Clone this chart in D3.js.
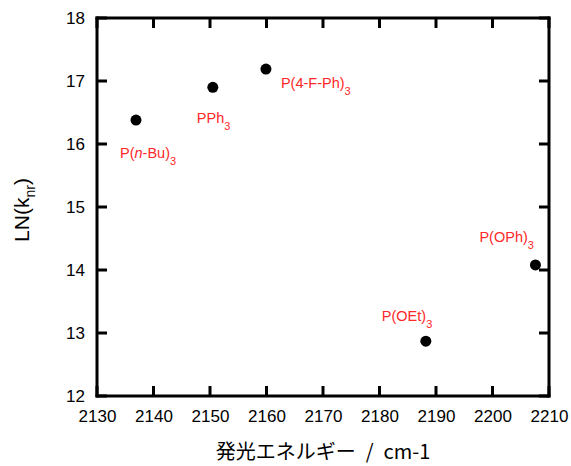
<!DOCTYPE html>
<html lang="ja">
<head>
  <meta charset="utf-8">
  <title>LN(knr) vs emission energy</title>
  <script src="https://d3js.org/d3.v7.min.js"></script>
</head>
<style>
  body { margin: 0; background: #fff; }
  text { font-family: "Liberation Sans", Arial, sans-serif; }
</style>
<body>
<div class="chart"></div>
<script>
// data
var ligands = ["P(n-Bu)3", "PPh3", "P(4-F-Ph)3", "P(OEt)3", "P(OPh)3"];
var energy = [2136.9, 2150.5, 2159.9, 2188.2, 2207.6];
var lnKnr = [16.38, 16.90, 17.19, 12.87, 14.08];
var xTicks = [2130, 2140, 2150, 2160, 2170, 2180, 2190, 2200, 2210];
var yTicks = [12, 13, 14, 15, 16, 17, 18];

var W = 571, H = 466;
var margin = {top: 18, right: 22, bottom: 70, left: 97};
var width = W - margin.left - margin.right;
var height = H - margin.top - margin.bottom;

var svg = d3.select(".chart").append("svg")
  .attr("width", W)
  .attr("height", H);

var g = svg.append("g")
  .attr("transform", "translate(" + margin.left + "," + margin.top + ")");

var x = d3.scaleLinear().domain([2130, 2210]).range([0, width]);
var y = d3.scaleLinear().domain([12, 18]).range([height, 0]);

// tick labels from the axes
g.append("g")
  .attr("transform", "translate(0," + height + ")")
  .call(d3.axisBottom(x).tickValues(xTicks).tickSize(0).tickPadding(14).tickFormat(d3.format("d")));
g.append("g")
  .call(d3.axisLeft(y).tickValues(yTicks).tickSize(0).tickPadding(12).tickFormat(d3.format("d")));
g.selectAll(".domain").remove();
g.selectAll(".tick line").remove();
g.selectAll(".tick text")
  .attr("fill", "#000")
  .style("font-size", "17px")
  .style("font-family", "'Liberation Sans', Arial, sans-serif");

// frame and inward ticks as filled bars, each with its own fill
var lw = 3, tickLen = 10, hw = lw / 2;
var bars = [];
bars.push([-hw, -hw, width + lw, lw]);
bars.push([-hw, height - hw, width + lw, lw]);
bars.push([-hw, -hw, lw, height + lw]);
bars.push([width - hw, -hw, lw, height + lw]);
xTicks.forEach(function(d) {
  bars.push([x(d) - hw, height - tickLen, lw, tickLen]);
  bars.push([x(d) - hw, 0, lw, tickLen]);
});
yTicks.forEach(function(d) {
  bars.push([0, y(d) - hw, tickLen, lw]);
  bars.push([width - tickLen, y(d) - hw, tickLen, lw]);
});
g.selectAll(".bar").data(bars).enter().append("rect")
  .attr("class", "bar")
  .attr("x", function(b) { return b[0]; })
  .attr("y", function(b) { return b[1]; })
  .attr("width", function(b) { return b[2]; })
  .attr("height", function(b) { return b[3]; })
  .attr("fill", "#000");

// points
g.selectAll(".dot")
  .data(energy)
  .enter().append("circle")
  .attr("class", "dot")
  .attr("cx", function(d) { return x(d); })
  .attr("cy", function(d, i) { return y(lnKnr[i]); })
  .attr("r", 5.5)
  .style("fill", "#000");

// labels (offsets relative to each point)
var labelOff = [[-16, 38], [-16, 36], [15, 19], [-44, -20], [-56, -23]];
var red = "#ff2828";
ligands.forEach(function(name, i) {
  var t = g.append("text")
    .attr("x", x(energy[i]) + labelOff[i][0])
    .attr("y", y(lnKnr[i]) + labelOff[i][1])
    .style("fill", red)
    .style("font-size", "14.5px");
  var base = name.slice(0, -1);
  if (base.indexOf("n-") >= 0) {
    t.append("tspan").text("P(");
    t.append("tspan").style("font-style", "italic").text("n");
    t.append("tspan").text(base.slice(3));
  } else {
    t.append("tspan").text(base);
  }
  t.append("tspan").attr("dy", 7).style("font-size", "11px").text("3");
});

// axis titles
svg.append("text")
  .attr("x", margin.left + width / 2)
  .attr("y", 459)
  .attr("text-anchor", "middle")
  .style("font-family", "'Noto Sans CJK JP', sans-serif")
  .style("font-size", "20px")
  .text("発光エネルギー\u2002/\u2002cm-1");

var yt = svg.append("text")
  .attr("transform", "translate(29," + (margin.top + height / 2 + 3) + ") rotate(-90)")
  .attr("text-anchor", "middle")
  .style("font-size", "21px");
yt.append("tspan").text("LN(k");
yt.append("tspan").attr("dy", 6).style("font-size", "14px").text("nr");
yt.append("tspan").attr("dy", -6).text(")");
</script>
</body>
</html>
